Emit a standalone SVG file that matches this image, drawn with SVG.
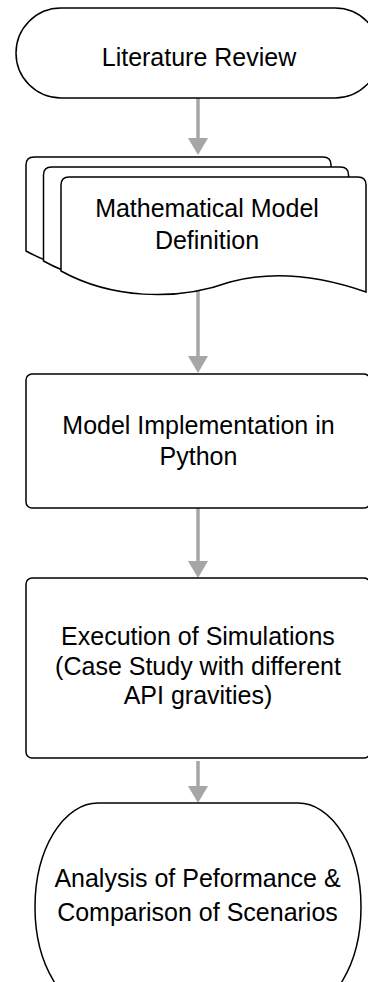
<svg xmlns="http://www.w3.org/2000/svg" xmlns:xlink="http://www.w3.org/1999/xlink" width="368" height="982" viewBox="0 0 368 982">
<style>
.node{fill:#ffffff;stroke:#000000;stroke-width:1.5}
.lbl{font-family:"Liberation Sans",Arial,Helvetica,sans-serif;font-size:25px;fill:#000000;text-anchor:middle}
.edge{stroke:#A6A6A6;stroke-width:3.5;fill:none}
</style>
<defs>
<marker id="ah" markerUnits="userSpaceOnUse" viewBox="0 0 17 20" markerWidth="17" markerHeight="20" refX="0" refY="10" orient="auto">
<path d="M0,0 L17,10 L0,20 Z" fill="#A6A6A6"/>
</marker>
<path id="docShape" d="M61,271 V185 Q61,177 69,177 H358 Q366,177 366,185 V292 C320,276 275,270 230,282 C175,302 110,298 61,271 Z"/>
</defs>
<rect width="368" height="982" fill="#ffffff"/>
<g id="connectors">
<line class="edge" x1="198" y1="98" x2="198" y2="138" marker-end="url(#ah)"/>
<line class="edge" x1="198" y1="291" x2="198" y2="356" marker-end="url(#ah)"/>
<line class="edge" x1="198" y1="508" x2="198" y2="561" marker-end="url(#ah)"/>
<line class="edge" x1="198" y1="761" x2="198" y2="786" marker-end="url(#ah)"/>
</g>
<g id="literature-review">
<rect class="node" x="16" y="8" width="364" height="90" rx="45" ry="45"/>
<text class="lbl" x="199" y="66">Literature Review</text>
</g>
<g id="mathematical-model">
<use href="#docShape" class="node" transform="translate(-35,-20)"/>
<use href="#docShape" class="node" transform="translate(-17.5,-10)"/>
<use href="#docShape" class="node"/>
<text class="lbl" x="207" y="217">Mathematical Model</text>
<text class="lbl" x="207" y="249">Definition</text>
</g>
<g id="model-implementation">
<rect class="node" x="26" y="374" width="344" height="134" rx="6" ry="6"/>
<text class="lbl" x="198.5" y="434">Model Implementation in</text>
<text class="lbl" x="198.5" y="465">Python</text>
</g>
<g id="execution-simulations">
<rect class="node" x="26" y="578" width="344" height="180" rx="6" ry="6"/>
<text class="lbl" x="198" y="645">Execution of Simulations</text>
<text class="lbl" x="198" y="675">(Case Study with different</text>
<text class="lbl" x="198" y="704">API gravities)</text>
</g>
<g id="analysis">
<rect class="node" x="35" y="803" width="326" height="208" rx="63" ry="104"/>
<text class="lbl" x="197.5" y="887">Analysis of Peformance &amp;</text>
<text class="lbl" x="197.5" y="921">Comparison of Scenarios</text>
</g>
</svg>
